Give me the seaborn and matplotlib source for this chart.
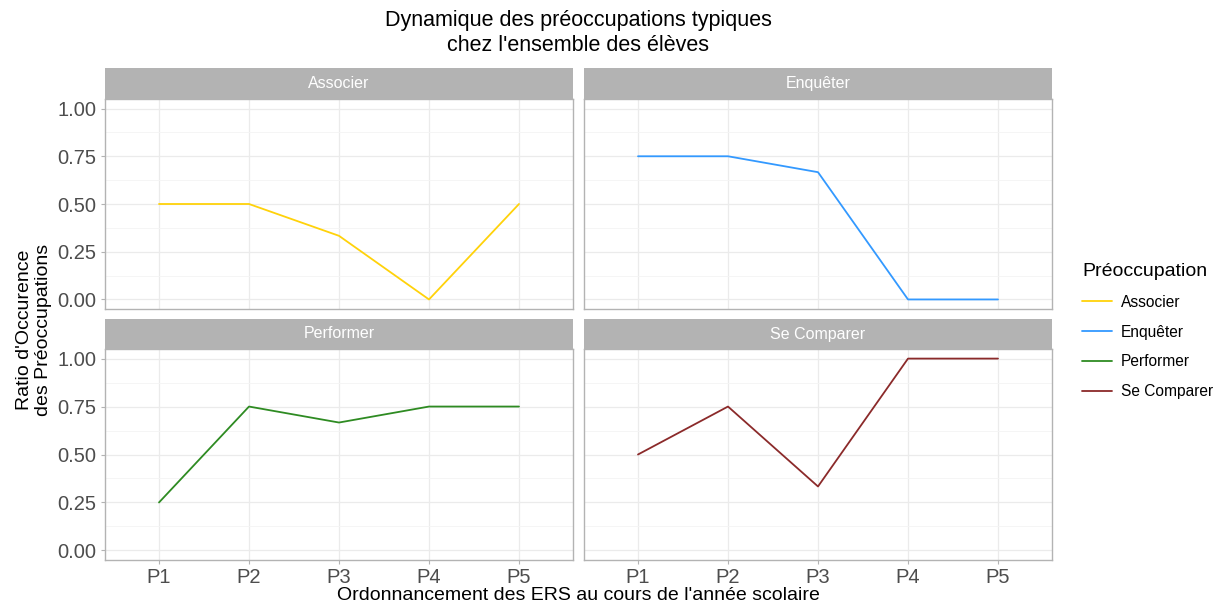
import matplotlib.pyplot as plt
import matplotlib.patches as mpatches
from matplotlib.lines import Line2D
from matplotlib.ticker import MultipleLocator
import numpy as np
import pandas as pd
import seaborn as sns

# Data
periods = ["P1", "P2", "P3", "P4", "P5"]
preoccupations = ["Associer", "Enquêter", "Performer", "Se Comparer"]
associer = [0.5, 0.5, 1 / 3, 0.0, 0.5]
enqueter = [0.75, 0.75, 2 / 3, 0.0, 0.0]
performer = [0.25, 0.75, 2 / 3, 0.75, 0.75]
se_comparer = [0.5, 0.75, 1 / 3, 1.0, 1.0]
colors = ["#FFD20A", "#3399FF", "#2E8B22", "#8B2A2A"]

sns.set_theme(style="white")
plt.rcParams["font.family"] = ["Liberation Sans", "DejaVu Sans"]
plt.rcParams["text.color"] = "black"

rows = []
for name, vals in zip(preoccupations, [associer, enqueter, performer, se_comparer]):
    for i, (p, v) in enumerate(zip(periods, vals)):
        rows.append({"Préoccupation": name, "Période": p, "pos": i, "ratio": v})
df = pd.DataFrame(rows)

W, H = 1215, 608
fig = plt.figure(figsize=(W / 100, H / 100), dpi=100)


def px_axes(x0, y0, x1, y1):
    return fig.add_axes([x0 / W, 1 - y1 / H, (x1 - x0) / W, (y1 - y0) / H])


# panel boxes in pixels (x0, strip_top, panel_top, x1, panel_bottom)
boxes = [
    (105, 68, 99, 573, 309),
    (584, 68, 99, 1052, 309),
    (105, 319, 349, 573, 560),
    (584, 319, 349, 1052, 560),
]

grid_major = "#EBEBEB"
grid_minor = "#F4F4F4"
border = "#B3B3B3"

for k, (name, col) in enumerate(zip(preoccupations, colors)):
    x0, st, pt, x1, pb = boxes[k]
    ax = px_axes(x0, pt, x1, pb)
    sub = df[df["Préoccupation"] == name]
    sns.lineplot(data=sub, x="pos", y="ratio", color=col, linewidth=1.3, ax=ax,
                 legend=False, zorder=3)
    ax.set_xlim(-0.6, 4.6)
    ax.set_ylim(-0.05, 1.05)
    ax.yaxis.set_major_locator(MultipleLocator(0.25))
    ax.yaxis.set_minor_locator(MultipleLocator(0.125))
    ax.set_xticks(range(len(periods)))
    ax.grid(True, which="major", color=grid_major, linewidth=0.9, zorder=0)
    ax.grid(True, which="minor", axis="y", color=grid_minor, linewidth=0.6, zorder=0)
    ax.set_xlabel("")
    ax.set_ylabel("")
    for s in ax.spines.values():
        s.set_color(border)
        s.set_linewidth(1.0)
    ax.tick_params(which="minor", length=0)
    ax.tick_params(which="major", length=3, color=border, width=0.8,
                   labelsize=14.5, labelcolor="#4D4D4D", pad=3)
    ax.tick_params(axis="y", left=(k % 2 == 0), labelleft=(k % 2 == 0))
    ax.tick_params(axis="x", bottom=(k >= 2), labelbottom=(k >= 2))
    if k >= 2:
        ax.set_xticklabels(periods)
    else:
        ax.set_xticklabels([])
    ax.set_yticks([0, 0.25, 0.5, 0.75, 1.0])
    ax.set_yticklabels(["0.00", "0.25", "0.50", "0.75", "1.00"])

    # facet strip
    sax = px_axes(x0, st, x1, pt)
    sax.set_axis_off()
    sax.add_patch(mpatches.Rectangle((0, 0), 1, 1, transform=sax.transAxes,
                                     facecolor="#B3B3B3", edgecolor="none"))
    sax.text(0.5, 0.5, name, ha="center", va="center", color="white",
             fontsize=11.5, transform=sax.transAxes)

fig.text(578 / W, 1 - 33 / H, "Dynamique des préoccupations typiques\nchez l'ensemble des élèves",
         ha="center", va="center", fontsize=15.5, linespacing=1.2)
fig.text(578 / W, 1 - 596 / H, "Ordonnancement des ERS au cours de l'année scolaire",
         ha="center", va="center", fontsize=14)
fig.text(34 / W, 1 - 330 / H, "Ratio d'Occurence\ndes Préoccupations",
         ha="center", va="center", rotation=90, fontsize=14, linespacing=1.15)

handles = [Line2D([0], [0], color=c, linewidth=1.3) for c in colors]
leg = fig.legend(handles, preoccupations, title="Préoccupation",
                 loc="upper left", bbox_to_anchor=(1068 / W, 1 - 249 / H),
                 frameon=False, fontsize=11.2, title_fontsize=14,
                 handlelength=1.9, handletextpad=0.6, labelspacing=0.95)
leg._legend_box.align = "left"

fig.savefig("out.png", dpi=100)
